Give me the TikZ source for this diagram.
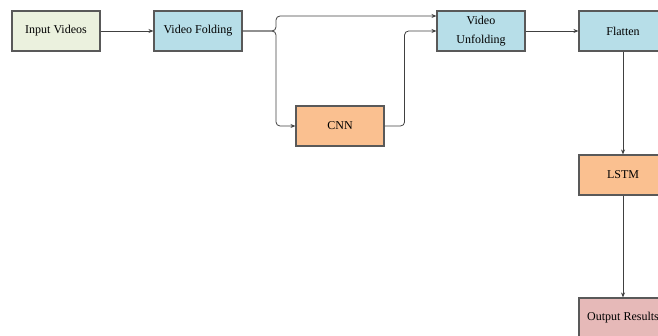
\documentclass[tikz,border=0pt]{standalone}
\usepackage{fontspec}
\setmainfont{Liberation Serif}
\usetikzlibrary{arrows.meta,calc}
\usepackage{xcolor}
\definecolor{inputgreen}{HTML}{EBF1DE}
\definecolor{stageblue}{HTML}{B7DEE8}
\definecolor{stageorange}{HTML}{FAC090}
\definecolor{outputpink}{HTML}{E6B9B8}
\definecolor{boxedge}{HTML}{595959}
\definecolor{wire}{HTML}{404040}

\begin{document}
\begin{tikzpicture}[x=1pt, y=-1pt,
  stage/.style={draw=boxedge, line width=1.1pt, minimum width=88pt, minimum height=40pt,
    inner sep=0pt, align=center, font=\fontsize{12}{19}\selectfont},
  wired/.style={draw=wire, line width=0.8pt, rounded corners=4pt, -{Stealth[length=5pt,width=4pt]}}]
  \useasboundingbox (0,0) rectangle (658,336);
  \clip (0,0) rectangle (658,336);
  \node[stage, fill=inputgreen]  (input)   at (56,31)  {Input Videos};
  \node[stage, fill=stageblue]   (fold)    at (198,31) {Video Folding};
  \node[stage, fill=stageorange] (cnn)     at (340,126) {CNN};
  \node[stage, fill=stageblue]   (unfold)  at (481,31) {Video\\Unfolding};
  \node[stage, fill=stageblue]   (flatten) at (623,31) {Flatten};
  \node[stage, fill=stageorange] (lstm)    at (623,175) {LSTM};
  \node[stage, fill=outputpink]  (output)  at (623,318) {Output Results};
  \coordinate (split) at (276,31);
  \coordinate (upin) at ($(unfold.west)+(0,-15)$);
  % folding splits into a bypass and the CNN
  \draw[wired] (input) -- (fold);
  \draw[wired] (fold.east) -- (split) |- (upin);
  \draw[wired] (fold.east) -- (split) |- (cnn.west);
  \draw[wired] (cnn.east) -- ++(20,0) |- (unfold.west);
  \draw[wired] (unfold) -- (flatten);
  \draw[wired] (flatten) -- (lstm);
  \draw[wired] (lstm) -- (output);
\end{tikzpicture}
\end{document}
